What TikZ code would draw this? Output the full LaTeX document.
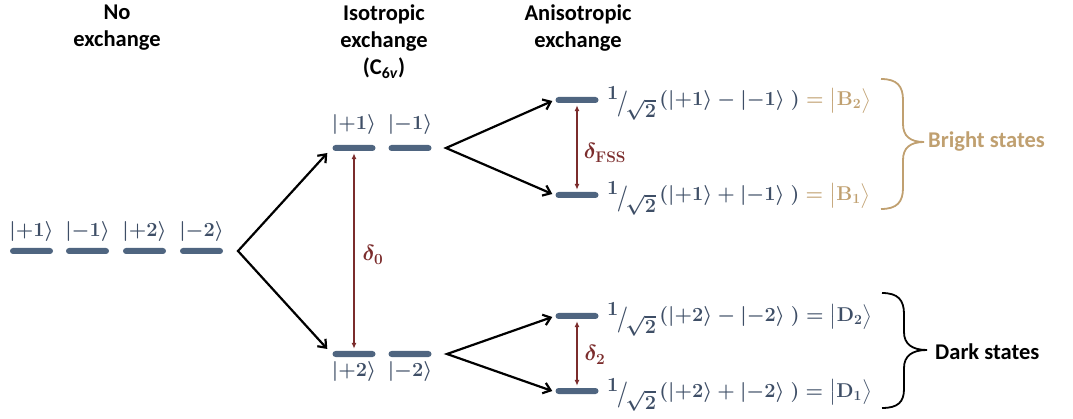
\RequirePackage{fix-cm}
\documentclass[tikz,border=0pt]{standalone}
\usepackage{fontspec}
\usepackage{amsmath}
\usetikzlibrary{arrows.meta,calc}
\newfontfamily\titlefont{Carlito}
\definecolor{barcol}{HTML}{4F6580}
\definecolor{slate}{HTML}{3E4E66}
\definecolor{dred}{HTML}{7B2C2C}
\definecolor{tancol}{HTML}{C0A070}
\newcommand{\kt}[1]{\lvert #1\rangle}
\newcommand{\hsq}{\raisebox{0.3em}{$1$}\kern-0.08em\raisebox{-0.22em}{\scalebox{1}[1.3]{$/$}}\kern-0.12em\raisebox{-0.6em}{$\sqrt{2}$}}
\begin{document}
\begin{tikzpicture}[x=1pt,y=-1pt,
  lvl/.style={fill=barcol, rounded corners=3pt, minimum width=43pt, minimum height=6pt, inner sep=0pt},
  ketlbl/.style={text=slate, font=\fontsize{20}{24}\selectfont\boldmath, inner sep=0pt},
  formula/.style={text=slate, font=\fontsize{20}{24}\selectfont\boldmath, inner sep=0pt, anchor=base west},
  title/.style={font=\titlefont\bfseries\fontsize{22.5}{27}\selectfont, align=center, anchor=north, inner sep=0pt},
  side/.style={font=\titlefont\bfseries\fontsize{22.5}{27}\selectfont, anchor=west, inner sep=0pt},
  split/.style={draw=black, line width=2.2pt, {Straight Barb[length=7pt,width=11pt]}-{Straight Barb[length=7pt,width=11pt]}, line join=miter},
  gap/.style={draw=dred, line width=1.3pt, {Latex[length=6pt,width=5pt]}-{Latex[length=6pt,width=5pt]}, shorten <=2pt, shorten >=2pt},
  dlbl/.style={text=dred, font=\fontsize{22}{26}\selectfont\boldmath, inner sep=0pt},
  brace/.style={line width=1.8pt}]
\useasboundingbox (0,0) rectangle (1073,419);

% titles
\node[title] (t0) at (117,5) {No\\exchange};
\node[title] (t1) at (384,5) {Isotropic\\exchange\\(C\textsubscript{6\textit{v}})};
\node[title] (t2) at (578,5) {Anisotropic\\exchange};

% no exchange levels
\node[lvl] (n1) at (31.5,251) {};
\node[lvl] (n2) at (87.5,251) {};
\node[lvl] (n3) at (144.5,251) {};
\node[lvl] (n4) at (201.5,251) {};
\node[ketlbl] (l1) at (31.5,232) {$\kt{+1}$};
\node[ketlbl] (l2) at (87.5,232) {$\kt{-1}$};
\node[ketlbl] (l3) at (144.5,232) {$\kt{+2}$};
\node[ketlbl] (l4) at (201.5,232) {$\kt{-2}$};

% isotropic levels
\node[lvl] (i1) at (354,148) {};
\node[lvl] (i2) at (410,148) {};
\node[lvl] (i3) at (354,354) {};
\node[lvl] (i4) at (410,354) {};
\node[ketlbl] (k1) at (354,125) {$\kt{+1}$};
\node[ketlbl] (k2) at (410,125) {$\kt{-1}$};
\node[ketlbl] (k3) at (354,372) {$\kt{+2}$};
\node[ketlbl] (k4) at (410,372) {$\kt{-2}$};

% anisotropic levels
\node[lvl] (b2) at (577,100) {};
\node[lvl] (b1) at (577,195) {};
\node[lvl] (d2) at (577,316) {};
\node[lvl] (d1) at (577,391) {};

% splitting arrows
\coordinate (v0) at (238,251);
\coordinate (v1) at (446,148);
\coordinate (v2) at (447,354);
\draw[split] ($(i1.west)+(-5,5)$) -- (v0) -- ($(i3.west)+(-5,-5)$);
\draw[split] ($(b2.west)+(-3,1)$) -- (v1) -- ($(b1.west)+(-3,-1)$);
\draw[split] ($(d2.west)+(-3,1)$) -- (v2) -- ($(d1.west)+(-3,0)$);

% gaps
\draw[gap] (i1.south) -- (i3.north);
\draw[gap] (b2.south) -- (b1.north);
\draw[gap] (d2.south) -- (d1.north);
\node[dlbl] (g0) at (373,255) {$\delta_0$};
\node[dlbl] (g1) at (605,153) {$\delta_{\mathbf{FSS}}$};
\node[dlbl] (g2) at (595,355) {$\delta_2$};

% formulas
\node[formula] (f1) at (607,106) {\hsq\,$(\kt{+1} - \kt{-1}\ )$\textcolor{tancol}{$\;=\bigl|\mathbf{B}_2\bigr\rangle$}};
\node[formula] (f2) at (607,201) {\hsq\,$(\kt{+1} + \kt{-1}\ )$\textcolor{tancol}{$\;=\bigl|\mathbf{B}_1\bigr\rangle$}};
\node[formula] (f3) at (607,322) {\hsq\,$(\kt{+2} - \kt{-2}\ ) = \bigl|\mathbf{D}_2\bigr\rangle$};
\node[formula] (f4) at (607,397) {\hsq\,$(\kt{+2} + \kt{-2}\ ) = \bigl|\mathbf{D}_1\bigr\rangle$};

% braces
\draw[brace, tancol] (881,79) .. controls (897,79) and (903,86) .. (903,100) -- (903,124)
   .. controls (903,136) and (910,142) .. (924,142)
   .. controls (910,142) and (903,148) .. (903,160) -- (903,188)
   .. controls (903,202) and (897,209) .. (881,209);
\draw[brace, black] (882,293) .. controls (898,293) and (904,300) .. (904,314) -- (904,332)
   .. controls (904,344) and (912,350) .. (927,350)
   .. controls (912,350) and (904,356) .. (904,368) -- (904,389)
   .. controls (904,402) and (898,408) .. (882,408);
\node[side, text=tancol] (bs) at (928,142) {Bright states};
\node[side, text=black] (ds) at (935,352) {Dark states};
\end{tikzpicture}
\end{document}
